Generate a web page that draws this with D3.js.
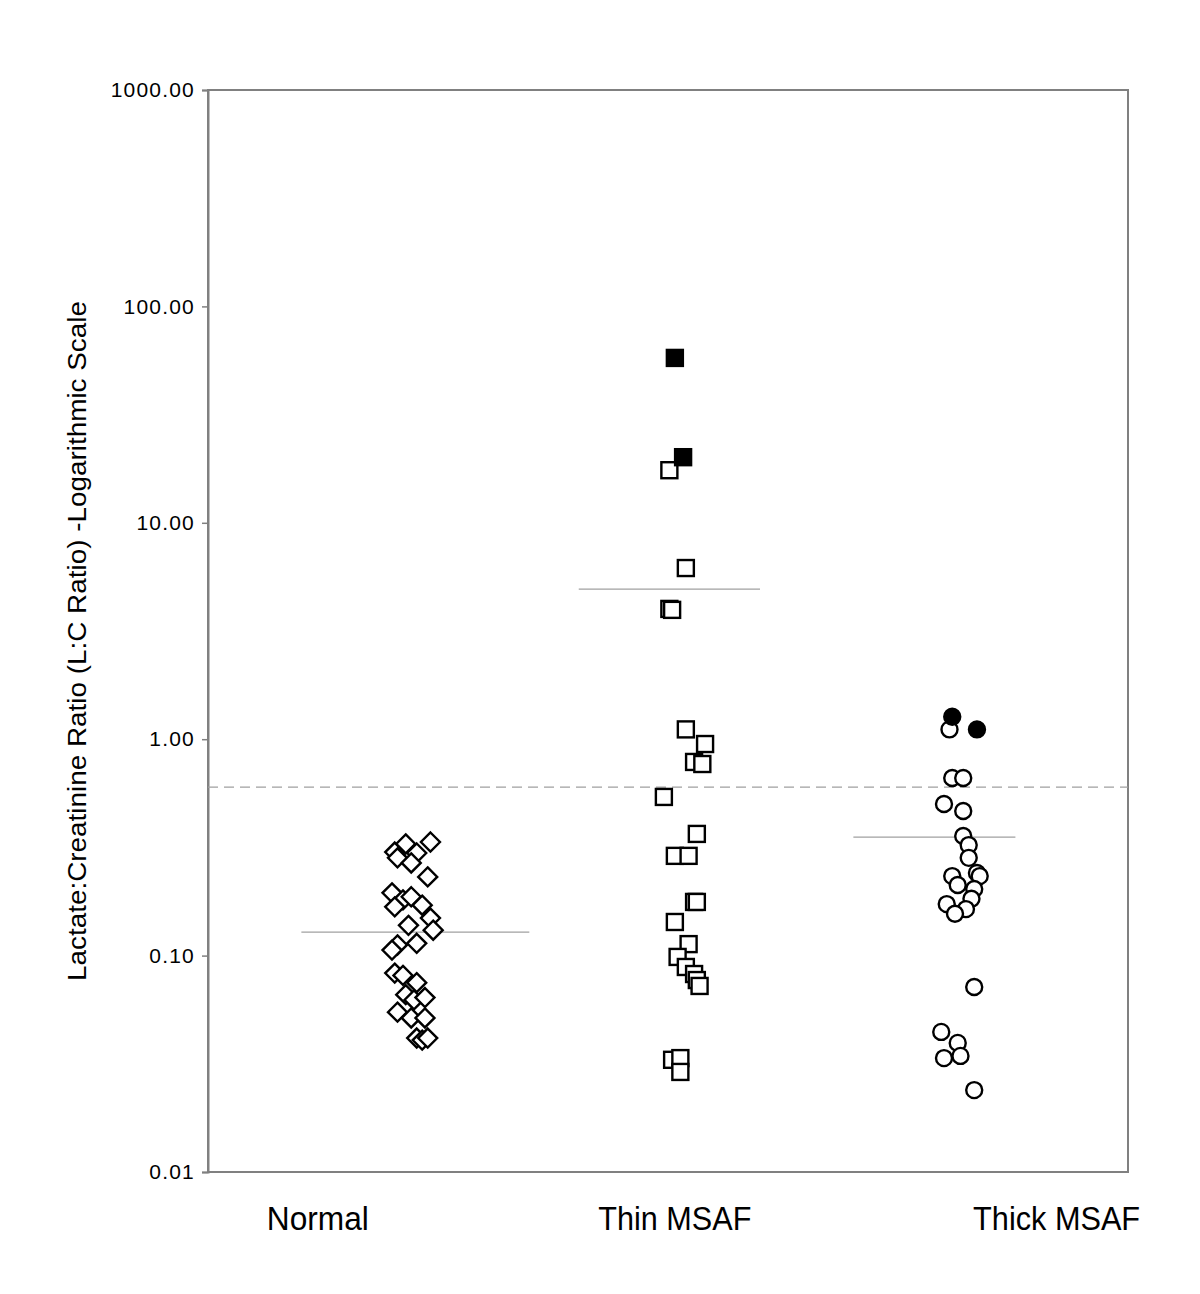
<!DOCTYPE html>
<html>
<head>
<meta charset="utf-8">
<script src="https://cdn.jsdelivr.net/npm/d3@7"></script>
<style>
  body { margin: 0; background: #fff; }
  svg text { font-family: "Liberation Sans", Arial, sans-serif; }
</style>
</head>
<body>
<svg id="chart"></svg>
<script>
// data: [x position (category units, incl. jitter), L:C ratio]
const normalPts = [
  [0.93,0.301],[0.97,0.328],[1.01,0.298],[1.06,0.335],[0.94,0.283],[0.99,0.268],
  [1.05,0.231],[0.92,0.195],[0.96,0.181],[0.99,0.187],[0.93,0.168],[1.03,0.171],
  [1.06,0.149],[0.98,0.138],[1.07,0.131],[1.01,0.114],[0.94,0.112],[0.92,0.106],
  [0.93,0.083],[0.96,0.081],[1.01,0.075],[0.97,0.066],[1.00,0.0624],[1.04,0.064],
  [0.94,0.0548],[0.99,0.0515],[1.04,0.0515],[1.01,0.0416],[1.03,0.0407],[1.05,0.0416]
];
const thinOpen = [
  [1.93,17.5],[1.99,6.18],[1.93,4.0],[1.94,3.96],[1.99,1.11],[2.06,0.95],[2.02,0.785],
  [2.05,0.768],[1.91,0.541],[2.03,0.365],[1.95,0.289],[2.00,0.289],[2.02,0.177],
  [2.03,0.177],[1.95,0.143],[2.00,0.113],[1.96,0.0986],[1.99,0.0886],[2.02,0.0822],
  [2.03,0.0771],[2.04,0.0724],[1.94,0.033],[1.97,0.0336],[1.97,0.029]
];
const thinFilled = [[1.95,57.8],[1.98,20.1]];
const thickOpen = [
  [2.95,1.11],[2.96,0.662],[3.00,0.662],[2.93,0.502],[3.00,0.466],[3.00,0.357],
  [3.02,0.324],[3.02,0.283],[2.96,0.233],[3.05,0.241],[3.06,0.233],[2.98,0.212],
  [3.04,0.203],[3.03,0.183],[2.94,0.173],[3.01,0.164],[2.97,0.156],[3.04,0.0716],
  [2.92,0.0444],[2.98,0.0395],[2.99,0.0344],[2.93,0.0336],[3.04,0.0239]
];
const thickFilled = [[2.96,1.27],[3.05,1.11]];

// group means: [x start, x end, value]
const meanLines = [[0.59,1.42,0.1285],[1.60,2.26,4.94],[2.60,3.19,0.353]];
const cutoff = 0.6;

const categories = ["Normal", "Thin MSAF", "Thick MSAF"];
const categoryX = [0.65, 1.95, 3.34];
const categoryW = [102, 153, 167];
const yTicks = [0.01, 0.1, 1, 10, 100, 1000];

const width = 1200, height = 1294;
const margin = {top: 90, right: 72, bottom: 122, left: 208};

const svg = d3.select("#chart").attr("width", width).attr("height", height);

const x = d3.scaleLinear().domain([0.25, 3.6]).range([margin.left, width - margin.right]);
const y = d3.scaleLog().domain([0.01, 1000]).range([height - margin.bottom, margin.top]);

// plot frame
svg.append("rect")
  .attr("x", margin.left).attr("y", margin.top)
  .attr("width", width - margin.left - margin.right)
  .attr("height", height - margin.top - margin.bottom)
  .attr("fill", "none").attr("stroke", "#808080").attr("stroke-width", 2);

// y axis
const yAxis = svg.append("g")
  .attr("transform", `translate(${margin.left},0)`)
  .call(d3.axisLeft(y).tickValues(yTicks).tickFormat(d3.format(".2f")).tickSize(6).tickPadding(7));
yAxis.select(".domain").attr("stroke", "#808080").attr("stroke-width", 2);
yAxis.selectAll(".tick line").attr("stroke", "#808080").attr("stroke-width", 1.5);
yAxis.selectAll(".tick text").attr("font-size", 21).attr("fill", "#000")
  .attr("letter-spacing", 1.2)
  .attr("font-family", "Liberation Sans, Arial, sans-serif");

// y title
svg.append("text")
  .attr("transform", `translate(86,${(margin.top + height - margin.bottom) / 2 + 10}) rotate(-90)`)
  .attr("text-anchor", "middle")
  .attr("font-size", 26)
  .attr("textLength", 680)
  .attr("lengthAdjust", "spacingAndGlyphs")
  .text("Lactate:Creatinine Ratio (L:C Ratio) -Logarithmic Scale");

// category labels
svg.selectAll(".cat")
  .data(categories)
  .enter().append("text")
  .attr("class", "cat")
  .attr("x", (d, i) => x(categoryX[i]) - categoryW[i] / 2)
  .attr("y", height - margin.bottom + 58)
  .attr("font-size", 33)
  .attr("textLength", (d, i) => categoryW[i])
  .attr("lengthAdjust", "spacingAndGlyphs")
  .text(d => d);

// cutoff dashed line
svg.append("line")
  .attr("x1", x.range()[0]).attr("x2", x.range()[1])
  .attr("y1", y(cutoff)).attr("y2", y(cutoff))
  .attr("stroke", "#a0a0a0").attr("stroke-width", 1.2)
  .attr("stroke-dasharray", "10,6");

// mean lines
svg.selectAll(".mean")
  .data(meanLines)
  .enter().append("line")
  .attr("x1", d => x(d[0])).attr("x2", d => x(d[1]))
  .attr("y1", d => y(d[2])).attr("y2", d => y(d[2]))
  .attr("stroke", "#a0a0a0").attr("stroke-width", 1.2);

// normal: open diamonds
svg.selectAll(".diamond")
  .data(normalPts)
  .enter().append("path")
  .attr("d", "M0,-9.5L9.5,0L0,9.5L-9.5,0Z")
  .attr("transform", d => `translate(${x(d[0])},${y(d[1])})`)
  .attr("fill", "#fff").attr("stroke", "#000").attr("stroke-width", 2.4);

// thin MSAF: squares
function squares(data, fill) {
  svg.append("g").selectAll("rect")
    .data(data)
    .enter().append("rect")
    .attr("x", d => x(d[0]) - 8)
    .attr("y", d => y(d[1]) - 8)
    .attr("width", 16).attr("height", 16)
    .attr("fill", fill).attr("stroke", "#000").attr("stroke-width", 2.4);
}
squares(thinOpen, "#fff");
squares(thinFilled, "#000");

// thick MSAF: circles
function circles(data, fill) {
  svg.append("g").selectAll("circle")
    .data(data)
    .enter().append("circle")
    .attr("cx", d => x(d[0]))
    .attr("cy", d => y(d[1]))
    .attr("r", 8)
    .attr("fill", fill).attr("stroke", "#000").attr("stroke-width", 2.4);
}
circles(thickOpen, "#fff");
circles(thickFilled, "#000");
</script>
</body>
</html>
